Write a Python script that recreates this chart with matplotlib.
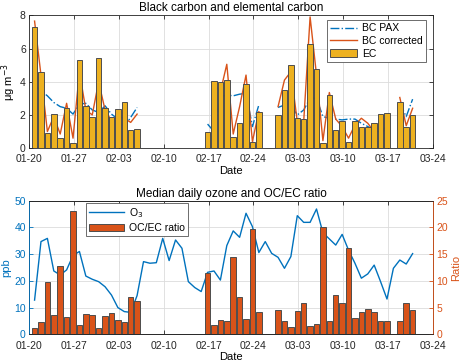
import numpy as np
import pandas as pd
import matplotlib
matplotlib.use('Agg')
import matplotlib.pyplot as plt
import matplotlib.dates as mdates

nan = np.nan

# daily values, 2023-01-20 .. 2023-03-20 (60 days)
ec = [7.3, 4.6, 0.9, 2.05, 0.64, 2.43, 0.34, 5.28, 2.55, 1.85, 5.42, 2.4, 1.85, 2.33, 2.75, 1.07, 1.17,
      nan, nan, nan, nan, nan, nan, nan, nan, nan, nan,
      0.95, 4.04, 3.98, 4.1, 0.7, 1.53, 3.84, 0.38, 2.15,
      nan, nan,
      2.01, 3.48, 5.02, 1.83, 1.77, 6.29, 4.76, 0.34, 3.19, 1.07, 1.61, 0.40, 1.61, 1.27, 1.27, 1.49, 2.07, 2.11,
      nan,
      2.75, 1.25, 2.0]

bc_corr = [7.65, 4.4, 1.0, 1.9, 0.85, 2.7, 0.6, 4.6, 2.3, 2.0, 4.0, 2.3, 1.65, 1.9, 1.8, 1.55, 2.05,
           nan, nan, nan, nan, nan, nan, nan, nan, nan, nan,
           nan, 3.9, 3.4, 5.05, 0.85, 2.5, 4.4, 0.4, 2.2,
           nan, nan,
           2.5, 4.1, 4.6, 1.6, 1.6, 7.9, 4.4, 0.45, 3.35, 1.75, 1.3, 0.6, 1.4, 1.8, 1.5, 1.0, 1.0, 1.1,
           nan,
           3.05, 1.35, 2.4]

bc_pax = [3.8, 3.45, 3.15, 2.75, 2.5, 2.4, 2.05, 2.65, 2.7, 2.3, 2.15, 2.55, 2.05, 1.75, 1.3, 1.85, 2.45,
          nan, nan, nan, nan, nan, nan, nan, nan, nan, nan,
          1.45, 1.0, 3.1, 3.2, 3.15, 3.25, 3.3, 1.3, 2.6,
          nan, nan,
          2.45, 2.6, 2.6, 2.0, 2.3, 3.0, 3.0, 1.9, 1.8, 1.75, 1.7, 1.75, 1.75, 1.5, 1.3, 1.1, 1.0, 1.3,
          nan,
          2.7, 1.9, 2.95]

ratio = [1.2, 2.25, 9.7, 3.6, 12.7, 3.25, 23.1, 1.8, 3.8, 3.6, 1.15, 3.4, 3.9, 2.6, 2.3, 6.9, 6.3,
         nan, nan, nan, nan, nan, nan, nan, nan, nan, nan,
         11.4, 1.75, 2.6, 2.4, 14.4, 7.0, 2.9, 19.7, 4.2,
         nan, nan,
         4.55, 2.55, 1.4, 4.4, 5.9, 1.6, 1.9, 20.1, 2.5, 7.4, 5.8, 16.1, 3.1, 4.2, 4.7, 4.2, 2.4, 2.55,
         nan,
         2.5, 5.8, 4.5]

ozone = [12.8, 34.7, 35.9, 23.7, 22.2, 24.1, 29.5, 31.0, 21.8, 20.6, 19.7, 17.8, 14.7, 10.0, 8.5, 8.2, 14.5,
         27.2, 26.6, 26.8, 35.9, 27.6, 35.3, 32.2, 19.7, 17.5, 16.0,
         23.2, 23.7, 20.3, 33.2, 38.7, 36.3, 45.3, 40.3, 30.6, 34.7, 30.3,
         28.8, 24.7, 29.1, 44.4, 41.9, 41.9, 46.9, 38.0, 35.7, 33.4, 37.4, 31.5, 26.6, 21.0, 22.6, 25.9, 19.7,
         13.2, 24.7, 27.8, 26.3, 30.2]

dates = pd.date_range('2023-01-20 20:00', periods=len(ec), freq='D')
xticks = pd.date_range('2023-01-20', '2023-03-24', freq='7D')
xlim = (pd.Timestamp('2023-01-20'), pd.Timestamp('2023-03-24'))

blue = '#0072BD'
orange = '#D95319'
gold = '#EDB120'
dark = '#262626'

plt.rcParams['font.family'] = ['Liberation Sans', 'DejaVu Sans']
plt.rcParams['font.size'] = 7.5
plt.rcParams['axes.edgecolor'] = dark
plt.rcParams['axes.linewidth'] = 0.6
plt.rcParams['xtick.color'] = dark
plt.rcParams['ytick.color'] = dark
plt.rcParams['xtick.direction'] = 'in'
plt.rcParams['ytick.direction'] = 'in'
plt.rcParams['xtick.major.size'] = 3
plt.rcParams['ytick.major.size'] = 3
plt.rcParams['xtick.major.width'] = 0.6
plt.rcParams['ytick.major.width'] = 0.6

fig = plt.figure(figsize=(4.64, 3.64), dpi=100)
ax1 = fig.add_axes([0.063, 0.593, 0.870, 0.365])
ax2 = fig.add_axes([0.063, 0.0816, 0.870, 0.367])

# top: black carbon / EC
ax1.plot(dates, bc_pax, '-.', color=blue, lw=1.0, label='BC PAX', zorder=2)
ax1.plot(dates, bc_corr, '-', color=orange, lw=1.0, label='BC corrected', zorder=2)
ax1.bar(dates, ec, width=0.86, color=gold, edgecolor='#4d4d4d', linewidth=0.7,
        label='EC', zorder=3)
ax1.set_ylim(0, 8)
ax1.set_yticks([0, 2, 4, 6, 8])
ax1.set_ylabel('μg m$^{-3}$', fontsize=8, labelpad=1)
ax1.set_title('Black carbon and elemental carbon', fontsize=8.5, pad=3)
ax1.set_xlabel('Date', fontsize=8, labelpad=1)
leg1 = ax1.legend(loc='upper right', bbox_to_anchor=(0.983, 0.962), borderaxespad=0,
                  fancybox=False, edgecolor='#555555', framealpha=1, fontsize=7.5,
                  handlelength=2.6, borderpad=0.3, labelspacing=0.25, handletextpad=0.5)
leg1.get_frame().set_linewidth(0.6)

# bottom: ozone and OC/EC ratio
ax2.plot(dates, ozone, '-', color=blue, lw=1.0, label='O$_3$')
ax2.set_ylim(0, 50)
ax2.set_yticks([0, 10, 20, 30, 40, 50])
ax2.tick_params(axis='y', colors=blue, pad=2.5)
ax2.set_ylabel('ppb', color=blue, fontsize=8, labelpad=2)
ax2.set_title('Median daily ozone and OC/EC ratio', fontsize=8.5, pad=3)
ax2.set_xlabel('Date', fontsize=8, labelpad=1)

ax2r = ax2.twinx()
ax2r.bar(dates, ratio, width=0.86, color=orange, edgecolor='#4d4d4d', linewidth=0.7,
         label='OC/EC ratio')
ax2r.set_ylim(0, 25)
ax2r.set_yticks([0, 5, 10, 15, 20, 25])
ax2r.tick_params(axis='y', colors=orange, direction='in', pad=2.5)
ax2r.set_ylabel('Ratio', color=orange, fontsize=8, labelpad=2)
ax2r.spines['right'].set_color(orange)
ax2r.spines['left'].set_color(blue)
h1, l1 = ax2.get_legend_handles_labels()
h2, l2 = ax2r.get_legend_handles_labels()
leg2 = ax2r.legend(h1 + h2, l1 + l2, loc='upper left', bbox_to_anchor=(0.14, 0.983),
                   borderaxespad=0, fancybox=False, edgecolor='#555555', framealpha=1,
                   fontsize=7.5, handlelength=3.4, borderpad=0.3, labelspacing=0.3,
                   handletextpad=0.5)
leg2.get_frame().set_linewidth(0.6)

ax1.tick_params(axis='y', right=True, pad=2.5)
for ax in (ax1, ax2):
    ax.set_xlim(xlim)
    ax.set_xticks(xticks)
    ax.xaxis.set_major_formatter(mdates.DateFormatter('%m-%d'))
    ax.grid(True, color='#dcdcdc', linewidth=0.6)
    ax.set_axisbelow(True)
    ax.tick_params(axis='x', top=True, pad=4.5)

fig.savefig('out.png', dpi=100)
